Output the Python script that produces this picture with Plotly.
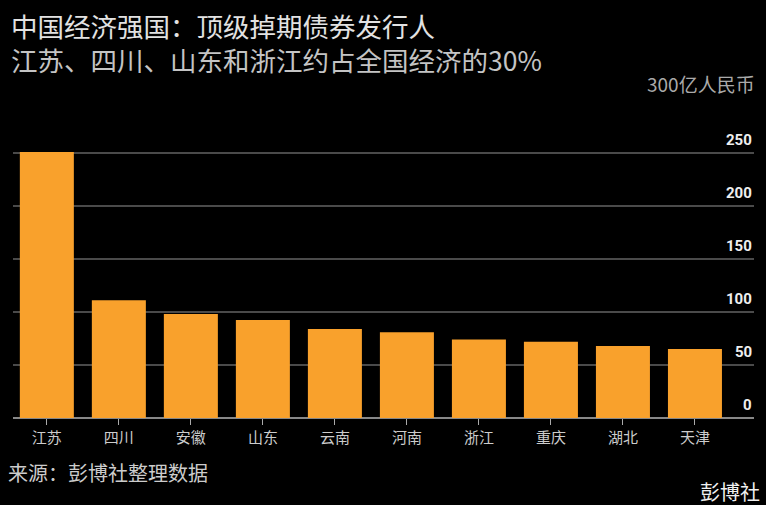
import plotly.graph_objects as go

categories = ["江苏", "四川", "安徽", "山东", "云南", "河南", "浙江", "重庆", "湖北", "天津"]
values = [251, 111, 98, 92.5, 84, 81, 74, 72, 68, 65]
ytick_vals = [0, 50, 100, 150, 200, 250, 300]
ytick_text = ["0", "50", "100", "150", "200", "250"]

title = "中国经济强国：顶级掉期债券发行人"
subtitle = "江苏、四川、山东和浙江约占全国经济的30%"
unit = "300亿人民币"
source = "来源：彭博社整理数据"
brand = "彭博社"

FONT = "Noto Sans CJK SC"
PH = 318  # plot height in px
PW = 741

fig = go.Figure()
fig.add_trace(go.Bar(
    x=categories, y=values,
    marker=dict(color="#f9a12c", line=dict(width=0)),
    hoverinfo="x+y",
))

def py(px):
    return (418 - px) / PH

header = (f'<span style="color:#e2e2e2">{title}</span><br>'
          f'<span style="color:#c4c4c4">{subtitle}</span>')

annotations = [
    dict(text=header, xref="paper", yref="paper", x=-13/PW, y=py(42),
         xanchor="left", yanchor="middle", align="left", showarrow=False, xshift=9,
         font=dict(family=FONT, size=26.5, color="#e2e2e2")),
    dict(text=unit, xref="paper", yref="y", x=1, y=ytick_vals[-1],
         xanchor="right", yanchor="bottom", showarrow=False, xshift=3, yshift=1,
         font=dict(family=FONT, size=19, color="#aaaaaa")),
    dict(text=source, xref="paper", yref="paper", x=-13/PW, y=py(472),
         xanchor="left", yanchor="middle", showarrow=False, xshift=6,
         font=dict(family=FONT, size=20, color="#cccccc")),
    dict(text=brand, xref="paper", yref="paper", x=1, y=py(491),
         xanchor="right", yanchor="middle", showarrow=False, xshift=8,
         font=dict(family=FONT, size=20, color="#f0f0f0")),
]
for v, t in zip(ytick_vals, ytick_text):
    annotations.append(dict(
        text=t, xref="paper", yref="y", x=1, y=v,
        xanchor="right", yanchor="bottom", showarrow=False, xshift=0, yshift=2,
        font=dict(family="Roboto", size=15, color="#eeeeee", weight="bold"),
    ))

fig.update_layout(
    width=766, height=505,
    paper_bgcolor="#000000", plot_bgcolor="#000000",
    margin=dict(l=13, r=12, t=100, b=87),
    bargap=0.25,
    showlegend=False,
    font=dict(family=FONT, color="#cccccc"),
    xaxis=dict(
        range=[-0.47, 9.82],
        showgrid=False, zeroline=False,
        showline=False,
        ticks="outside", ticklen=6, tickwidth=1, tickcolor="#aaaaaa",
        tickfont=dict(family=FONT, size=15, color="#cccccc"),
        fixedrange=True,
    ),
    yaxis=dict(
        range=[0, 300],
        side="right",
        tickvals=ytick_vals,
        showticklabels=False,
        showgrid=True, gridcolor="#4a4a4a", gridwidth=1.5,
        zeroline=True, zerolinecolor="#888888", zerolinewidth=1.5,
        showline=False, ticks="",
        fixedrange=True,
    ),
    annotations=annotations,
)

fig.write_html("out.html")
